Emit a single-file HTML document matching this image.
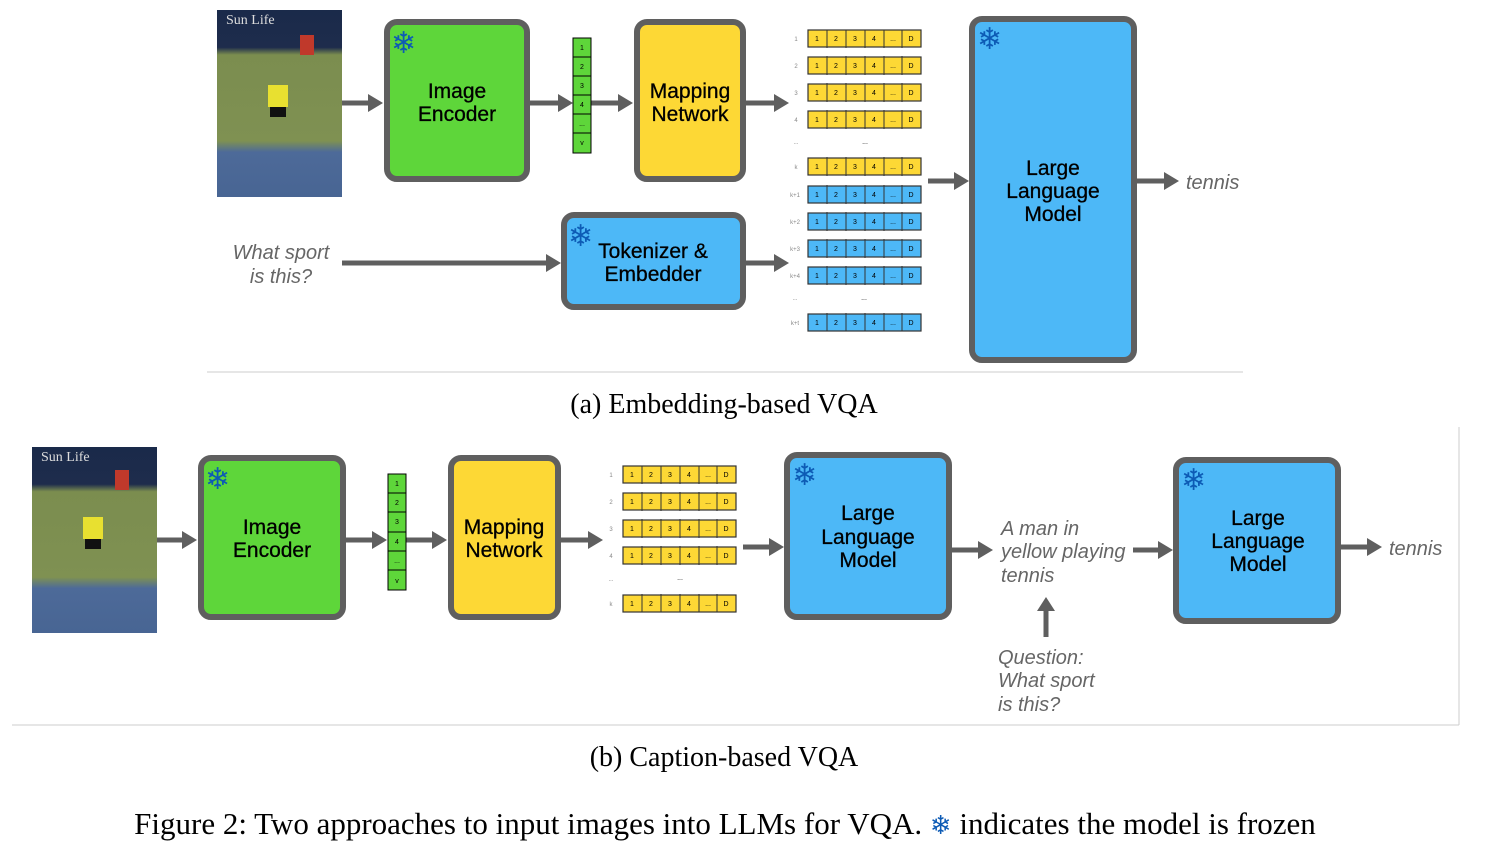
<!DOCTYPE html>
<html><head><meta charset="utf-8"><style>
html,body{margin:0;padding:0;background:#fff;}
svg{display:block;}
.b{font-family:"Liberation Sans",Arial,sans-serif;font-size:21px;fill:#000;text-anchor:middle;stroke:#000;stroke-width:0.3px;}
.i{font-family:"Liberation Sans",Arial,sans-serif;font-size:20px;font-style:italic;fill:#666;}
.s{font-family:"Liberation Serif",serif;fill:#000;text-anchor:middle;}
.t{font-family:"Liberation Sans",Arial,sans-serif;font-size:7px;fill:#000;text-anchor:middle;}
.l{font-family:"Liberation Sans",Arial,sans-serif;font-size:6px;fill:#888;text-anchor:middle;}
.f{font-family:"DejaVu Sans",sans-serif;font-size:30px;fill:#0d5bb5;font-weight:bold;}
</style></head><body>
<svg width="1488" height="860" viewBox="0 0 1488 860" xmlns="http://www.w3.org/2000/svg">
<defs>
<linearGradient id="img" x1="0" y1="0" x2="0" y2="1">
<stop offset="0" stop-color="#1a2a4a"/><stop offset="0.2" stop-color="#1e2c4c"/><stop offset="0.24" stop-color="#7b8d4f"/><stop offset="0.7" stop-color="#7f9152"/><stop offset="0.76" stop-color="#4d6a99"/><stop offset="1" stop-color="#486593"/>
</linearGradient>
</defs>
<!-- ===== (a) ===== -->
<rect x="217" y="10" width="125" height="187" fill="url(#img)"/>
<text x="226" y="24" font-family="Liberation Serif,serif" font-size="14" fill="#ddd">Sun Life</text>
<rect x="300" y="35" width="14" height="20" fill="#c0392b"/>
<rect x="268" y="85" width="20" height="22" fill="#e8e030"/>
<rect x="270" y="107" width="16" height="10" fill="#111"/>

<g fill="#5f5f5f" stroke="#5f5f5f">
<line x1="342" y1="103" x2="370" y2="103" stroke-width="5"/><polygon points="368,94 383,103 368,112" stroke="none"/>
<line x1="530" y1="103" x2="560" y2="103" stroke-width="5"/><polygon points="558,94 573,103 558,112" stroke="none"/>
<line x1="591" y1="103" x2="620" y2="103" stroke-width="5"/><polygon points="618,94 633,103 618,112" stroke="none"/>
<line x1="746" y1="103" x2="776" y2="103" stroke-width="5"/><polygon points="774,94 789,103 774,112" stroke="none"/>
<line x1="928" y1="181" x2="956" y2="181" stroke-width="5"/><polygon points="954,172 969,181 954,190" stroke="none"/>
<line x1="1137" y1="181" x2="1166" y2="181" stroke-width="5"/><polygon points="1164,172 1179,181 1164,190" stroke="none"/>
<line x1="342" y1="263" x2="548" y2="263" stroke-width="5"/><polygon points="546,254 561,263 546,272" stroke="none"/>
<line x1="746" y1="263" x2="776" y2="263" stroke-width="5"/><polygon points="774,254 789,263 774,272" stroke="none"/>
</g>

<rect x="387" y="22" width="140" height="157" rx="10" fill="#5ed63a" stroke="#5f5f5f" stroke-width="6"/>
<text class="f" x="391" y="53">❄</text>
<text class="b" x="457" y="98">Image</text><text class="b" x="457" y="121">Encoder</text>

<g stroke="#000" stroke-width="1" fill="#5ed63a">
<rect x="573" y="38" width="18" height="115"/>
<line x1="573" y1="57" x2="591" y2="57"/><line x1="573" y1="76" x2="591" y2="76"/><line x1="573" y1="95" x2="591" y2="95"/><line x1="573" y1="114" x2="591" y2="114"/><line x1="573" y1="133" x2="591" y2="133"/>
</g>
<text class="t" x="582" y="50">1</text><text class="t" x="582" y="69">2</text><text class="t" x="582" y="88">3</text><text class="t" x="582" y="107">4</text><text class="t" x="582" y="126">...</text><text class="t" x="582" y="145">v</text>

<rect x="637" y="22" width="106" height="157" rx="10" fill="#fdd835" stroke="#5f5f5f" stroke-width="6"/>
<text class="b" x="690" y="98">Mapping</text><text class="b" x="690" y="121">Network</text>

<g stroke="#333" stroke-width="1.2" fill="#fdd835">
<rect x="808" y="30" width="113" height="17"/><rect x="808" y="57" width="113" height="17"/><rect x="808" y="84" width="113" height="17"/><rect x="808" y="111" width="113" height="17"/><rect x="808" y="158" width="113" height="17"/>
</g>
<g stroke="#333" stroke-width="1.2" fill="#4db8f7">
<rect x="808" y="186" width="113" height="17"/><rect x="808" y="213" width="113" height="17"/><rect x="808" y="240" width="113" height="17"/><rect x="808" y="267" width="113" height="17"/><rect x="808" y="314" width="113" height="17"/>
</g>
<g stroke="#333" stroke-width="1">
<line x1="827" y1="30" x2="827" y2="331"/><line x1="846" y1="30" x2="846" y2="331"/><line x1="865" y1="30" x2="865" y2="331"/><line x1="884" y1="30" x2="884" y2="331"/><line x1="902" y1="30" x2="902" y2="331"/>
</g>
<rect x="805" y="48" width="120" height="8" fill="#fff"/><rect x="805" y="75" width="120" height="8" fill="#fff"/><rect x="805" y="102" width="120" height="8" fill="#fff"/>
<rect x="805" y="129" width="120" height="28" fill="#fff"/><rect x="805" y="176" width="120" height="9" fill="#fff"/>
<rect x="805" y="204" width="120" height="8" fill="#fff"/><rect x="805" y="231" width="120" height="8" fill="#fff"/><rect x="805" y="258" width="120" height="8" fill="#fff"/>
<rect x="805" y="285" width="120" height="28" fill="#fff"/>
<text class="t" x="817" y="41">1</text><text class="t" x="836" y="41">2</text><text class="t" x="855" y="41">3</text><text class="t" x="874" y="41">4</text><text class="t" x="893" y="41">...</text><text class="t" x="911" y="41">D</text>
<text class="t" x="817" y="68">1</text><text class="t" x="836" y="68">2</text><text class="t" x="855" y="68">3</text><text class="t" x="874" y="68">4</text><text class="t" x="893" y="68">...</text><text class="t" x="911" y="68">D</text>
<text class="t" x="817" y="95">1</text><text class="t" x="836" y="95">2</text><text class="t" x="855" y="95">3</text><text class="t" x="874" y="95">4</text><text class="t" x="893" y="95">...</text><text class="t" x="911" y="95">D</text>
<text class="t" x="817" y="122">1</text><text class="t" x="836" y="122">2</text><text class="t" x="855" y="122">3</text><text class="t" x="874" y="122">4</text><text class="t" x="893" y="122">...</text><text class="t" x="911" y="122">D</text>
<text class="t" x="817" y="169">1</text><text class="t" x="836" y="169">2</text><text class="t" x="855" y="169">3</text><text class="t" x="874" y="169">4</text><text class="t" x="893" y="169">...</text><text class="t" x="911" y="169">D</text>
<text class="t" x="817" y="197">1</text><text class="t" x="836" y="197">2</text><text class="t" x="855" y="197">3</text><text class="t" x="874" y="197">4</text><text class="t" x="893" y="197">...</text><text class="t" x="911" y="197">D</text>
<text class="t" x="817" y="224">1</text><text class="t" x="836" y="224">2</text><text class="t" x="855" y="224">3</text><text class="t" x="874" y="224">4</text><text class="t" x="893" y="224">...</text><text class="t" x="911" y="224">D</text>
<text class="t" x="817" y="251">1</text><text class="t" x="836" y="251">2</text><text class="t" x="855" y="251">3</text><text class="t" x="874" y="251">4</text><text class="t" x="893" y="251">...</text><text class="t" x="911" y="251">D</text>
<text class="t" x="817" y="278">1</text><text class="t" x="836" y="278">2</text><text class="t" x="855" y="278">3</text><text class="t" x="874" y="278">4</text><text class="t" x="893" y="278">...</text><text class="t" x="911" y="278">D</text>
<text class="t" x="817" y="325">1</text><text class="t" x="836" y="325">2</text><text class="t" x="855" y="325">3</text><text class="t" x="874" y="325">4</text><text class="t" x="893" y="325">...</text><text class="t" x="911" y="325">D</text>
<text class="l" x="796" y="41">1</text><text class="l" x="796" y="68">2</text><text class="l" x="796" y="95">3</text><text class="l" x="796" y="122">4</text><text class="l" x="796" y="144">...</text><text class="l" x="796" y="169">k</text>
<text class="l" x="795" y="197">k+1</text><text class="l" x="795" y="224">k+2</text><text class="l" x="795" y="251">k+3</text><text class="l" x="795" y="278">k+4</text><text class="l" x="795" y="300">...</text><text class="l" x="795" y="325">k+t</text>
<text class="t" x="865" y="144" font-size="9">...</text><text class="t" x="864" y="300" font-size="9">...</text>

<rect x="972" y="19" width="162" height="341" rx="10" fill="#4db8f7" stroke="#5f5f5f" stroke-width="6"/>
<text class="f" x="977" y="49">❄</text>
<text class="b" x="1053" y="175">Large</text><text class="b" x="1053" y="198">Language</text><text class="b" x="1053" y="221">Model</text>
<text class="i" x="1186" y="189">tennis</text>

<rect x="564" y="215" width="179" height="92" rx="10" fill="#4db8f7" stroke="#5f5f5f" stroke-width="6"/>
<text class="f" x="568" y="246">❄</text>
<text class="b" x="653" y="258">Tokenizer &amp;</text><text class="b" x="653" y="281">Embedder</text>
<text class="i" x="281" y="259" text-anchor="middle">What sport</text><text class="i" x="281" y="283" text-anchor="middle">is this?</text>

<line x1="207" y1="372" x2="1243" y2="372" stroke="#ccc" stroke-width="1"/>
<text class="s" x="724" y="413" font-size="28">(a) Embedding-based VQA</text>

<!-- ===== (b) ===== -->
<line x1="1459" y1="427" x2="1459" y2="725" stroke="#ccc" stroke-width="1"/>
<line x1="12" y1="725" x2="1459" y2="725" stroke="#ccc" stroke-width="1"/>
<rect x="32" y="447" width="125" height="186" fill="url(#img)"/>
<text x="41" y="461" font-family="Liberation Serif,serif" font-size="14" fill="#ddd">Sun Life</text>
<rect x="115" y="470" width="14" height="20" fill="#c0392b"/>
<rect x="83" y="517" width="20" height="22" fill="#e8e030"/>
<rect x="85" y="539" width="16" height="10" fill="#111"/>

<g fill="#5f5f5f" stroke="#5f5f5f">
<line x1="157" y1="540" x2="184" y2="540" stroke-width="5"/><polygon points="182,531 197,540 182,549" stroke="none"/>
<line x1="346" y1="540" x2="374" y2="540" stroke-width="5"/><polygon points="372,531 387,540 372,549" stroke="none"/>
<line x1="406" y1="540" x2="434" y2="540" stroke-width="5"/><polygon points="432,531 447,540 432,549" stroke="none"/>
<line x1="561" y1="540" x2="590" y2="540" stroke-width="5"/><polygon points="588,531 603,540 588,549" stroke="none"/>
<line x1="743" y1="547" x2="771" y2="547" stroke-width="5"/><polygon points="769,538 784,547 769,556" stroke="none"/>
<line x1="952" y1="550" x2="980" y2="550" stroke-width="5"/><polygon points="978,541 993,550 978,559" stroke="none"/>
<line x1="1133" y1="550" x2="1160" y2="550" stroke-width="5"/><polygon points="1158,541 1173,550 1158,559" stroke="none"/>
<line x1="1341" y1="547" x2="1369" y2="547" stroke-width="5"/><polygon points="1367,538 1382,547 1367,556" stroke="none"/>
<line x1="1046" y1="637" x2="1046" y2="609" stroke-width="5"/><polygon points="1037,611 1046,597 1055,611" stroke="none"/>
</g>

<rect x="201" y="458" width="142" height="159" rx="10" fill="#5ed63a" stroke="#5f5f5f" stroke-width="6"/>
<text class="f" x="205" y="489">❄</text>
<text class="b" x="272" y="534">Image</text><text class="b" x="272" y="557">Encoder</text>

<g stroke="#000" stroke-width="1" fill="#5ed63a">
<rect x="388" y="474" width="18" height="116"/>
<line x1="388" y1="493" x2="406" y2="493"/><line x1="388" y1="512" x2="406" y2="512"/><line x1="388" y1="532" x2="406" y2="532"/><line x1="388" y1="551" x2="406" y2="551"/><line x1="388" y1="570" x2="406" y2="570"/>
</g>
<text class="t" x="397" y="486">1</text><text class="t" x="397" y="505">2</text><text class="t" x="397" y="524">3</text><text class="t" x="397" y="544">4</text><text class="t" x="397" y="563">...</text><text class="t" x="397" y="583">v</text>

<rect x="451" y="458" width="107" height="159" rx="10" fill="#fdd835" stroke="#5f5f5f" stroke-width="6"/>
<text class="b" x="504" y="534">Mapping</text><text class="b" x="504" y="557">Network</text>

<g stroke="#333" stroke-width="1.2" fill="#fdd835">
<rect x="623" y="466" width="113" height="17"/><rect x="623" y="493" width="113" height="17"/><rect x="623" y="520" width="113" height="17"/><rect x="623" y="547" width="113" height="17"/><rect x="623" y="595" width="113" height="17"/>
</g>
<g stroke="#333" stroke-width="1">
<line x1="642" y1="466" x2="642" y2="612"/><line x1="661" y1="466" x2="661" y2="612"/><line x1="680" y1="466" x2="680" y2="612"/><line x1="699" y1="466" x2="699" y2="612"/><line x1="717" y1="466" x2="717" y2="612"/>
</g>
<rect x="620" y="484" width="120" height="8" fill="#fff"/><rect x="620" y="511" width="120" height="8" fill="#fff"/><rect x="620" y="538" width="120" height="8" fill="#fff"/>
<rect x="620" y="565" width="120" height="29" fill="#fff"/>
<text class="t" x="632" y="477">1</text><text class="t" x="651" y="477">2</text><text class="t" x="670" y="477">3</text><text class="t" x="689" y="477">4</text><text class="t" x="708" y="477">...</text><text class="t" x="726" y="477">D</text>
<text class="t" x="632" y="504">1</text><text class="t" x="651" y="504">2</text><text class="t" x="670" y="504">3</text><text class="t" x="689" y="504">4</text><text class="t" x="708" y="504">...</text><text class="t" x="726" y="504">D</text>
<text class="t" x="632" y="531">1</text><text class="t" x="651" y="531">2</text><text class="t" x="670" y="531">3</text><text class="t" x="689" y="531">4</text><text class="t" x="708" y="531">...</text><text class="t" x="726" y="531">D</text>
<text class="t" x="632" y="558">1</text><text class="t" x="651" y="558">2</text><text class="t" x="670" y="558">3</text><text class="t" x="689" y="558">4</text><text class="t" x="708" y="558">...</text><text class="t" x="726" y="558">D</text>
<text class="t" x="632" y="606">1</text><text class="t" x="651" y="606">2</text><text class="t" x="670" y="606">3</text><text class="t" x="689" y="606">4</text><text class="t" x="708" y="606">...</text><text class="t" x="726" y="606">D</text>
<text class="l" x="611" y="477">1</text><text class="l" x="611" y="504">2</text><text class="l" x="611" y="531">3</text><text class="l" x="611" y="558">4</text><text class="l" x="611" y="581">...</text><text class="l" x="611" y="606">k</text>
<text class="t" x="680" y="580" font-size="9">...</text>

<rect x="787" y="455" width="162" height="162" rx="10" fill="#4db8f7" stroke="#5f5f5f" stroke-width="6"/>
<text class="f" x="792" y="485">❄</text>
<text class="b" x="868" y="520">Large</text><text class="b" x="868" y="544">Language</text><text class="b" x="868" y="567">Model</text>

<text class="i" x="1001" y="535">A man in</text><text class="i" x="1001" y="558">yellow playing</text><text class="i" x="1001" y="582">tennis</text>
<text class="i" x="998" y="664">Question:</text><text class="i" x="998" y="687">What sport</text><text class="i" x="998" y="711">is this?</text>

<rect x="1176" y="460" width="162" height="161" rx="10" fill="#4db8f7" stroke="#5f5f5f" stroke-width="6"/>
<text class="f" x="1181" y="490">❄</text>
<text class="b" x="1258" y="525">Large</text><text class="b" x="1258" y="548">Language</text><text class="b" x="1258" y="571">Model</text>
<text class="i" x="1389" y="555">tennis</text>

<text class="s" x="724" y="766" font-size="28">(b) Caption-based VQA</text>
<text class="s" x="725" y="834" font-size="31">Figure 2: Two approaches to input images into LLMs for VQA. <tspan font-family="DejaVu Sans,sans-serif" fill="#0d5bb5" font-size="26">❄</tspan> indicates the model is frozen</text>
</svg>
</body></html>
